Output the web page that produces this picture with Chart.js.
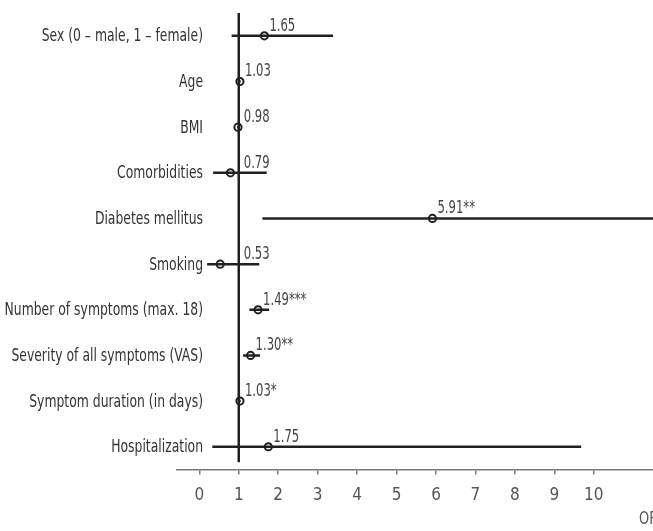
<!DOCTYPE html>
<html>
<head>
<meta charset="utf-8">
<script src="https://cdn.jsdelivr.net/npm/chart.js@4/dist/chart.umd.min.js"></script>
<style>
  body { margin: 0; background: #fff; }
  #wrap { width: 653px; height: 531px; }
</style>
</head>
<body>
<div id="wrap"><canvas id="forest" width="653" height="531"></canvas></div>
<script>
// Forest plot data (odds ratios with 95% CI)
const categories = [
    "Sex (0 – male, 1 – female)",
    "Age",
    "BMI",
    "Comorbidities",
    "Diabetes mellitus",
    "Smoking",
    "Number of symptoms (max. 18)",
    "Severity of all symptoms (VAS)",
    "Symptom duration (in days)",
    "Hospitalization"
];
const oddsRatios = [1.65, 1.03, 0.98, 0.79, 5.91, 0.53, 1.49, 1.30, 1.03, 1.75];
const ciLower = [0.82, 1.01, 0.96, 0.35, 1.60, 0.20, 1.27, 1.11, 1.01, 0.33];
const ciUpper = [3.39, 1.05, 1.00, 1.71, 21.8, 1.52, 1.77, 1.54, 1.05, 9.68];
const valueLabels = ["1.65", "1.03", "0.98", "0.79", "5.91**", "0.53", "1.49***", "1.30**", "1.03*", "1.75"];
const tickValues = [0, 1, 2, 3, 4, 5, 6, 7, 8, 9, 10];

const fontFamily = '"DejaVu Sans Condensed", "Liberation Sans Narrow", sans-serif';
const ink = '#231f20';

// one line dataset per confidence interval
const ciSets = categories.map((c, i) => ({
    data: [{ x: ciLower[i], y: i }, { x: ciUpper[i], y: i }],
    showLine: true,
    borderColor: ink,
    borderWidth: 2.5,
    pointRadius: 0
}));

// reference line at OR = 1
const refLine = {
    data: [{ x: 1, y: -0.5 }, { x: 1, y: 9.34 }],
    showLine: true,
    borderColor: ink,
    borderWidth: 2.5,
    pointRadius: 0
};

const pointSet = {
    data: oddsRatios.map((v, i) => ({ x: v, y: i })),
    pointRadius: 3.6,
    pointBackgroundColor: '#fff',
    pointBorderColor: ink,
    pointBorderWidth: 2,
    showLine: false
};

// draw text squeezed horizontally (condensed look)
function narrowText(c, text, x, y, sx) {
    c.save();
    c.translate(x, y);
    c.scale(sx, 1);
    c.fillText(text, 0, 0);
    c.restore();
}

const textPlugin = {
    id: 'forestText',
    afterDraw(chart) {
        const c = chart.ctx;
        const xs = chart.scales.x, ys = chart.scales.y;
        c.save();
        c.font = '17px ' + fontFamily;
        c.fillStyle = '#333';
        c.textAlign = 'right';
        c.textBaseline = 'middle';
        categories.forEach((name, i) => {
            narrowText(c, name, 203, ys.getPixelForValue(i) + 1, 0.81);
        });
        c.textAlign = 'left';
        c.textBaseline = 'alphabetic';
        c.fillStyle = '#444';
        oddsRatios.forEach((v, i) => {
            const px = Math.max(xs.getPixelForValue(v), xs.getPixelForValue(1));
            narrowText(c, valueLabels[i], px + 5, ys.getPixelForValue(i) - 5, 0.76);
        });
        c.font = '18px ' + fontFamily;
        c.fillStyle = '#555';
        narrowText(c, 'OR', 639, 524, 0.8);
        c.restore();
    }
};

new Chart(document.getElementById('forest').getContext('2d'), {
    type: 'scatter',
    data: { datasets: [...ciSets, refLine, pointSet] },
    options: {
        responsive: false,
        animation: false,
        layout: { autoPadding: false, padding: { left: 177, top: 13, right: 0, bottom: 14 } },
        plugins: { legend: { display: false }, tooltip: { enabled: false } },
        scales: {
            x: {
                type: 'linear',
                min: -0.565,
                max: 11.5,
                afterBuildTicks(scale) {
                    scale.ticks = tickValues.map(v => ({ value: v }));
                },
                border: { display: true, color: '#7a7a7a', width: 1.5 },
                grid: { drawOnChartArea: false, drawTicks: true, tickLength: 5, color: '#7a7a7a', lineWidth: 1.5 },
                ticks: {
                    color: '#555',
                    padding: 11,
                    maxRotation: 0,
                    font: { family: fontFamily, size: 17 },
                    callback: v => String(v)
                }
            },
            y: {
                type: 'linear',
                display: false,
                reverse: true,
                min: -0.5,
                max: 9.5
            }
        }
    },
    plugins: [textPlugin]
});
</script>
</body>
</html>
